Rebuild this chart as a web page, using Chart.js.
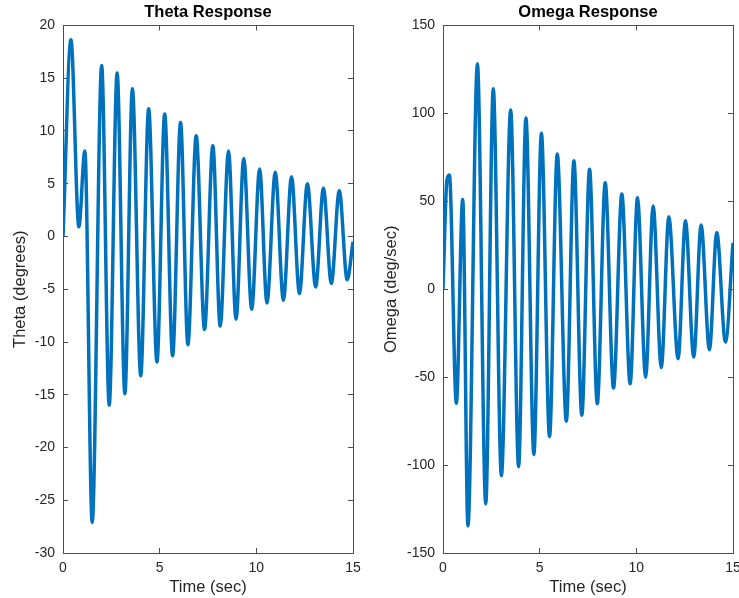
<!DOCTYPE html>
<html>
<head>
<meta charset="utf-8">
<script src="https://cdn.jsdelivr.net/npm/chart.js@4/dist/chart.umd.min.js"></script>
<style>
  html, body { margin: 0; padding: 0; background: #fff; overflow: hidden; }
  canvas { position: absolute; top: 0; }
  #graficoTheta { left: 0; }
  #graficoOmega { left: 370px; }
</style>
</head>
<body>
<canvas id="graficoTheta" width="400" height="598"></canvas>
<canvas id="graficoOmega" width="400" height="598"></canvas>
<script>
// values (peaks and troughs)
const thetaTime = [0, 0.41, 0.82, 1.13, 1.51, 2.0, 2.39, 2.8, 3.2, 3.59, 4.02, 4.43, 4.86, 5.26, 5.67, 6.08, 6.46, 6.89, 7.32, 7.75,
  8.13, 8.56, 8.95, 9.35, 9.76, 10.17, 10.55, 10.98, 11.4, 11.82, 12.23, 12.64, 13.07, 13.47, 13.88, 14.29, 14.7, 15];
const thetaDeg = [0, 18.65, 0.92, 8.1, -27.1, 16.2, -16.0, 15.5, -14.9, 14.0, -13.2, 12.1, -11.9, 11.6, -11.3, 10.8, -10.25, 9.56, -8.8, 8.6,
  -8.5, 8.1, -7.84, 7.4, -6.9, 6.4, -6.3, 6.1, -6.04, 5.67, -5.4, 5.0, -4.78, 4.57, -4.45, 4.34, -4.1, -0.5];

const omegaTime = [0, 0.2, 0.33, 0.69, 1.02, 1.29, 1.78, 2.21, 2.6, 3.02, 3.5, 3.91, 4.29, 4.7, 5.09, 5.51, 5.91, 6.38, 6.77, 7.18,
  7.58, 7.98, 8.39, 8.82, 9.25, 9.68, 10.06, 10.48, 10.87, 11.29, 11.68, 12.16, 12.54, 12.97, 13.35, 13.78, 14.16, 14.61, 15];
const omegaDegSec = [0, 62, 65, -64.8, 51.1, -134.5, 128.2, -122, 114, -106, 102, -100.9, 97.4, -94, 88.7, -83.8, 76.9, -75, 73.1, -71.6,
  68.2, -65.1, 60.6, -56.2, 54.1, -53.7, 52, -50, 47.3, -44.6, 41.2, -39.5, 38.9, -38.6, 36.5, -34.4, 32.3, -30, 26.4];

const timeTicks = [0, 5, 10, 15];
const thetaTicks = [-30, -25, -20, -15, -10, -5, 0, 5, 10, 15, 20];
const omegaTicks = [-150, -100, -50, 0, 50, 100, 150];

const corEixo = '#4d4d4d';
const corTexto = '#262626';
const familia = '"Liberation Sans", Arial, Helvetica, sans-serif';

const tituloPainel = {
  id: 'tituloPainel',
  afterDraw(chart, args, opts) {
    const { ctx, chartArea } = chart;
    ctx.save();
    ctx.font = 'bold 16.5px ' + familia;
    ctx.fillStyle = '#000';
    ctx.textAlign = 'center';
    ctx.textBaseline = 'middle';
    ctx.fillText(opts.text, (chartArea.left + chartArea.right) / 2, chartArea.top - 13.5);
    ctx.restore();
  }
};

function fixaTicks(valores) {
  return axis => { axis.ticks = valores.map(v => ({ value: v })); };
}

function eixo(posicao, min, max, valores, tamanho) {
  return {
    type: 'linear',
    position: posicao,
    min: min,
    max: max,
    afterBuildTicks: fixaTicks(valores),
    afterFit: s => {
      if (s.isHorizontal()) s.height = tamanho; else s.width = tamanho;
    },
    grid: { drawOnChartArea: false, tickLength: -5, color: corEixo, lineWidth: 1 },
    border: { color: corEixo, width: 1 },
    ticks: { display: false }
  };
}

function criaGrafico(id, tempo, valores, titulo, rotuloY, yMin, yMax, yTicks, larguraY, padTituloY, padDireita) {
  const x = eixo('bottom', 0, 15, timeTicks, 45);
  x.ticks = { padding: 12, color: corTexto, font: { family: familia, size: 14 }, maxRotation: 0, autoSkip: false };
  x.title = { display: true, text: 'Time (sec)', color: corTexto, font: { family: familia, size: 16.5 }, padding: { top: 0, bottom: 1 } };

  const y = eixo('left', yMin, yMax, yTicks, larguraY);
  y.ticks = { padding: 13, color: corTexto, font: { family: familia, size: 14 }, autoSkip: false };
  y.title = { display: true, text: rotuloY, color: corTexto, font: { family: familia, size: 16.5 }, padding: { top: padTituloY, bottom: 0 } };

  return new Chart(document.getElementById(id), {
    type: 'line',
    data: {
      datasets: [{
        data: tempo.map((t, i) => ({ x: t, y: valores[i] })),
        borderColor: '#0072BD',
        borderWidth: 3.5,
        pointRadius: 0,
        fill: false,
        cubicInterpolationMode: 'monotone'
      }]
    },
    options: {
      responsive: false,
      animation: false,
      events: [],
      layout: { padding: { top: 25.5, right: padDireita, bottom: 0, left: 0 } },
      scales: {
        x: x,
        x2: eixo('top', 0, 15, timeTicks, 0),
        y: y,
        y2: eixo('right', yMin, yMax, yTicks, 0)
      },
      plugins: {
        legend: { display: false },
        tooltip: { enabled: false },
        tituloPainel: { text: titulo }
      }
    },
    plugins: [tituloPainel]
  });
}

criaGrafico('graficoTheta', thetaTime, thetaDeg, 'Theta Response', 'Theta (degrees)', -30, 20, thetaTicks, 63, 11, 47);
criaGrafico('graficoOmega', omegaTime, omegaDegSec, 'Omega Response', 'Omega (deg/sec)', -150, 150, omegaTicks, 73, 12, 37);
</script>
</body>
</html>
